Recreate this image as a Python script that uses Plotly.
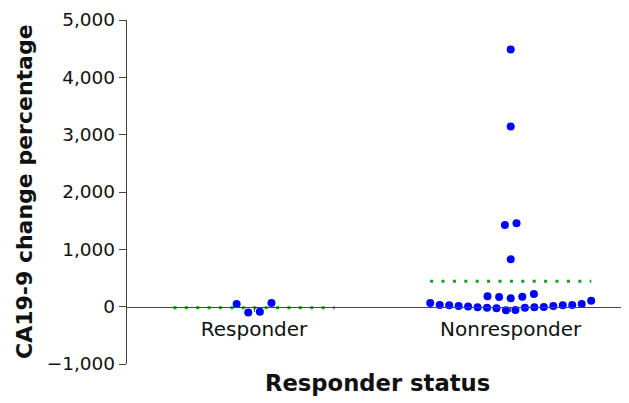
import plotly.graph_objects as go
import numpy as np

categories = ["Responder", "Nonresponder"]
responder_values = [47, -100, -87, 65]
nonresponder_values = [
    4485, 3141, 1454, 1426, 825,
    180, 169, 145, 175, 222,
    65, 30, 23, 12, 5, -12, -17, -29, -64,
    -58, -17, -12, -6, 12, 23, 30, 47, 105,
]
y_ticks = [-1000, 0, 1000, 2000, 3000, 4000, 5000]

X_RANGE = [-0.495, 1.457]
Y_RANGE = [-1000, 5000]
SPACING = 0.0452      # x offset between neighbouring dots (data units)
MAX_SPAN = 0.627      # widest a row of dots may become
ROW_BIN = 175         # values within this of a row's lowest value share the row
MEAN_HALF = 0.314     # half-width of the mean line


def swarm_offsets(values):
    order = sorted(range(len(values)), key=lambda i: values[i])
    rows, cur, start = [], [], None
    for i in order:
        if start is None or values[i] - start > ROW_BIN:
            if cur:
                rows.append(cur)
            cur, start = [i], values[i]
        else:
            cur.append(i)
    if cur:
        rows.append(cur)
    offs = [0.0] * len(values)
    for row in rows:
        n = len(row)
        step = SPACING if n < 2 else min(SPACING, MAX_SPAN / (n - 1))
        slots = []
        k = 1 if n % 2 == 1 else 0.5
        if n % 2 == 1:
            slots.append(0.0)
        while len(slots) < n:
            slots.append(-k)
            if len(slots) < n:
                slots.append(k)
            k += 1
        for idx, s in zip(row, slots):
            offs[idx] = s * step
    return offs


groups = [responder_values, nonresponder_values]
fig = go.Figure()
for ci, vals in enumerate(groups):
    offs = swarm_offsets(vals)
    fig.add_trace(go.Scatter(
        x=[ci + o for o in offs], y=vals, mode="markers",
        marker=dict(color="#0000FF", size=8, line=dict(width=0)),
        showlegend=False, hoverinfo="y"))
    m = float(np.mean(vals))
    fig.add_trace(go.Scatter(
        x=[ci - MEAN_HALF, ci + MEAN_HALF], y=[m, m], mode="lines",
        line=dict(color="#1E9A1E", width=3, dash="3px,8.4px"),
        showlegend=False, hoverinfo="skip"))

font_family = "DejaVu Sans, Liberation Sans, Arial, sans-serif"
txt = "#111111"
# the page body has an 8px default margin, so the figure is sized to fit
fig.update_layout(
    width=621, height=395,
    margin=dict(l=119, r=1, t=12, b=39),
    plot_bgcolor="white", paper_bgcolor="white",
    font=dict(family=font_family, color=txt),
    xaxis=dict(
        range=X_RANGE, tickvals=[0, 1], ticktext=categories,
        showline=True, linecolor="#444444", linewidth=1.3,
        ticks="outside", ticklen=4, tickcolor="#444444", tickwidth=1,
        showgrid=False, zeroline=False, automargin=False,
        anchor="free", position=(0 - Y_RANGE[0]) / (Y_RANGE[1] - Y_RANGE[0]),
        tickfont=dict(size=20, family=font_family, color=txt),
    ),
    yaxis=dict(
        range=Y_RANGE, tickvals=y_ticks, tickformat=",",
        showline=True, linecolor="#444444", linewidth=1.3,
        ticks="outside", ticklen=7, tickcolor="#444444", tickwidth=1.3,
        showgrid=False, zeroline=False, automargin=False,
        tickfont=dict(size=18.5, family=font_family, color=txt),
    ),
    annotations=[
        dict(text="<b>Responder status</b>", xref="paper", yref="paper",
             x=0.5, y=0, yshift=-19, xanchor="center", yanchor="middle",
             showarrow=False,
             font=dict(size=22.7, family=font_family, color=txt)),
        dict(text="<b>CA19-9 change percentage</b>", xref="paper", yref="paper",
             x=0, y=0.5, xshift=-103, textangle=-90,
             xanchor="center", yanchor="middle", showarrow=False,
             font=dict(size=22, family=font_family, color=txt)),
    ],
)

fig.write_html("out.html")
